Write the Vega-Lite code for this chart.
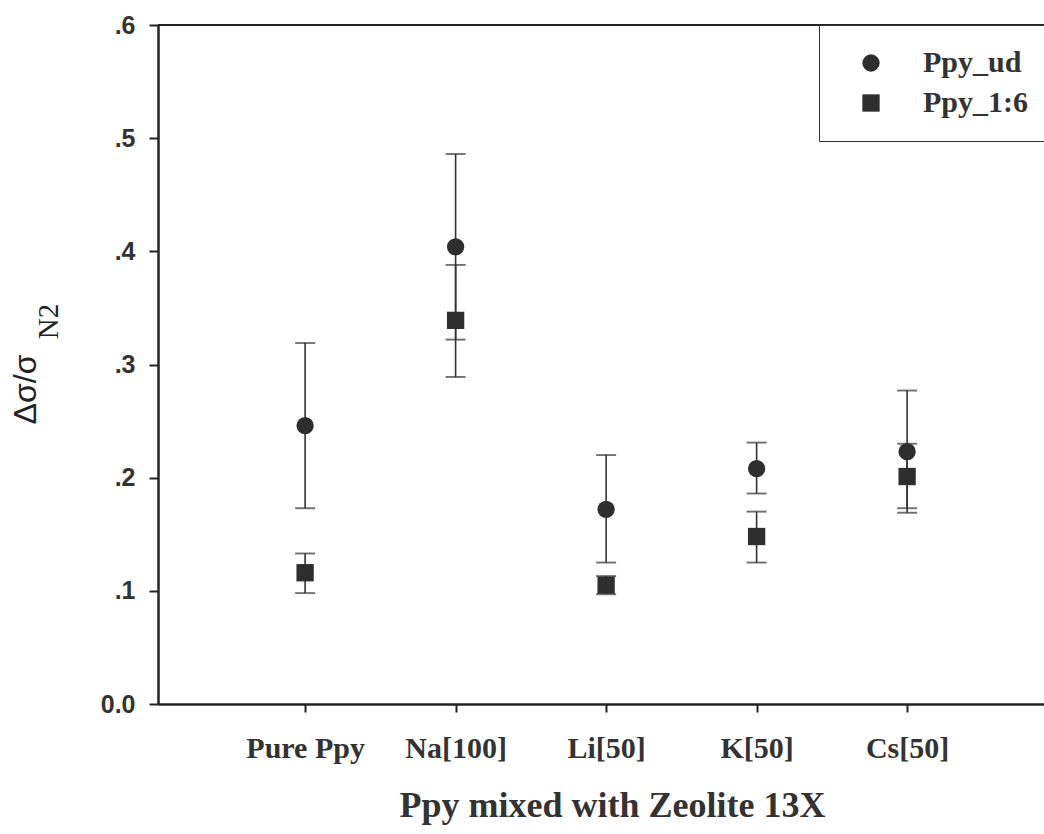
{
  "$schema": "https://vega.github.io/schema/vega-lite/v6.json",
  "width": 886,
  "height": 679,
  "autosize": {"type": "none"},
  "padding": {"left": 158, "top": 25, "right": 0, "bottom": 130},
  "background": "white",
  "config": {
    "view": {"stroke": null},
    "axis": {"domainColor": "#222", "domainWidth": 2.5, "tickColor": "#222", "tickWidth": 2, "grid": false},
    "axisX": {
      "labelFont": "Liberation Serif", "labelFontWeight": "bold", "labelFontSize": 30, "labelColor": "#333",
      "labelAngle": 0, "labelPadding": 21, "tickSize": 8,
      "titleFont": "Liberation Serif", "titleFontWeight": "bold", "titleFontSize": 36, "titleColor": "#333",
      "titlePadding": 25, "titleX": 454
    }
  },
  "data": {
    "values": [
      {"sample": "Pure Ppy", "series": "Ppy_ud", "value": 0.246, "lo": 0.173, "hi": 0.319},
      {"sample": "Pure Ppy", "series": "Ppy_1:6", "value": 0.116, "lo": 0.098, "hi": 0.133},
      {"sample": "Na[100]", "series": "Ppy_ud", "value": 0.404, "lo": 0.322, "hi": 0.486},
      {"sample": "Na[100]", "series": "Ppy_1:6", "value": 0.339, "lo": 0.289, "hi": 0.388},
      {"sample": "Li[50]", "series": "Ppy_ud", "value": 0.172, "lo": 0.125, "hi": 0.220},
      {"sample": "Li[50]", "series": "Ppy_1:6", "value": 0.105, "lo": 0.097, "hi": 0.113},
      {"sample": "K[50]", "series": "Ppy_ud", "value": 0.208, "lo": 0.186, "hi": 0.231},
      {"sample": "K[50]", "series": "Ppy_1:6", "value": 0.148, "lo": 0.125, "hi": 0.170},
      {"sample": "Cs[50]", "series": "Ppy_ud", "value": 0.223, "lo": 0.169, "hi": 0.277},
      {"sample": "Cs[50]", "series": "Ppy_1:6", "value": 0.201, "lo": 0.173, "hi": 0.230}
    ]
  },
  "resolve": {"axis": {"y": "independent"}},
  "layer": [
    {
      "mark": {"type": "rule", "color": "#333", "strokeWidth": 1.6},
      "encoding": {
        "x": {
          "field": "sample", "type": "nominal", "sort": null,
          "title": "Ppy mixed with Zeolite 13X",
          "scale": {"type": "point", "padding": 0.9435, "align": 0.518},
          "axis": {"orient": "bottom"}
        },
        "y": {
          "field": "lo", "type": "quantitative",
          "scale": {"domain": [0, 0.6], "nice": false},
          "axis": {
            "orient": "left",
            "values": [0, 0.1, 0.2, 0.3, 0.4, 0.5, 0.6],
            "labelExpr": "datum.value == 0 ? '0.0' : replace(format(datum.value, '.1f'), '0.', '.')",
            "labelFont": "Liberation Sans", "labelFontWeight": "bold", "labelFontSize": 25, "labelColor": "#333",
            "labelPadding": 14, "tickSize": 9,
            "title": "N2", "titleFont": "Liberation Serif", "titleFontWeight": "normal", "titleFontSize": 29, "titleColor": "#222",
            "titleAngle": -90, "titleBaseline": "middle", "titleAlign": "center", "titleX": -110, "titleY": 296
          }
        },
        "y2": {"field": "hi"}
      }
    },
    {
      "mark": {"type": "tick", "color": "#333", "size": 20, "thickness": 1.9},
      "encoding": {
        "x": {"field": "sample", "type": "nominal", "sort": null, "title": "Ppy mixed with Zeolite 13X", "axis": {"orient": "bottom"}},
        "y": {
          "field": "lo", "type": "quantitative",
          "axis": {
            "orient": "left",
            "labels": false, "ticks": false, "domain": false,
            "title": "Δσ/σ", "titleFont": "Liberation Sans", "titleFontWeight": "normal", "titleFontSize": 32, "titleColor": "#222",
            "titleAngle": -90, "titleBaseline": "middle", "titleAlign": "center", "titleX": -133, "titleY": 364
          }
        }
      }
    },
    {
      "mark": {"type": "tick", "color": "#333", "size": 20, "thickness": 1.9},
      "encoding": {
        "x": {"field": "sample", "type": "nominal", "sort": null, "title": "Ppy mixed with Zeolite 13X", "axis": {"orient": "bottom"}},
        "y": {"field": "hi", "type": "quantitative", "axis": null}
      }
    },
    {
      "mark": {"type": "point", "filled": true, "size": 300, "color": "#2e2e2e", "opacity": 1},
      "encoding": {
        "x": {"field": "sample", "type": "nominal", "sort": null, "title": "Ppy mixed with Zeolite 13X", "axis": {"orient": "bottom"}},
        "y": {"field": "value", "type": "quantitative", "axis": null},
        "shape": {
          "field": "series", "type": "nominal",
          "scale": {"domain": ["Ppy_ud", "Ppy_1:6"], "range": ["circle", "square"]},
          "legend": {
            "title": null, "orient": "none", "legendX": 661, "legendY": 0,
            "strokeColor": "#333", "fillColor": "white", "padding": 23,
            "symbolOffset": 14, "symbolSize": 300, "symbolFillColor": "#2e2e2e", "symbolStrokeColor": "#2e2e2e",
            "labelFont": "Liberation Serif", "labelFontWeight": "bold", "labelFontSize": 30, "labelColor": "#333",
            "labelOffset": 37, "rowPadding": 10
          }
        }
      }
    },
    {
      "mark": {"type": "rule", "color": "#222", "strokeWidth": 2},
      "encoding": {"y": {"datum": 0.6, "type": "quantitative", "axis": null}}
    }
  ]
}
